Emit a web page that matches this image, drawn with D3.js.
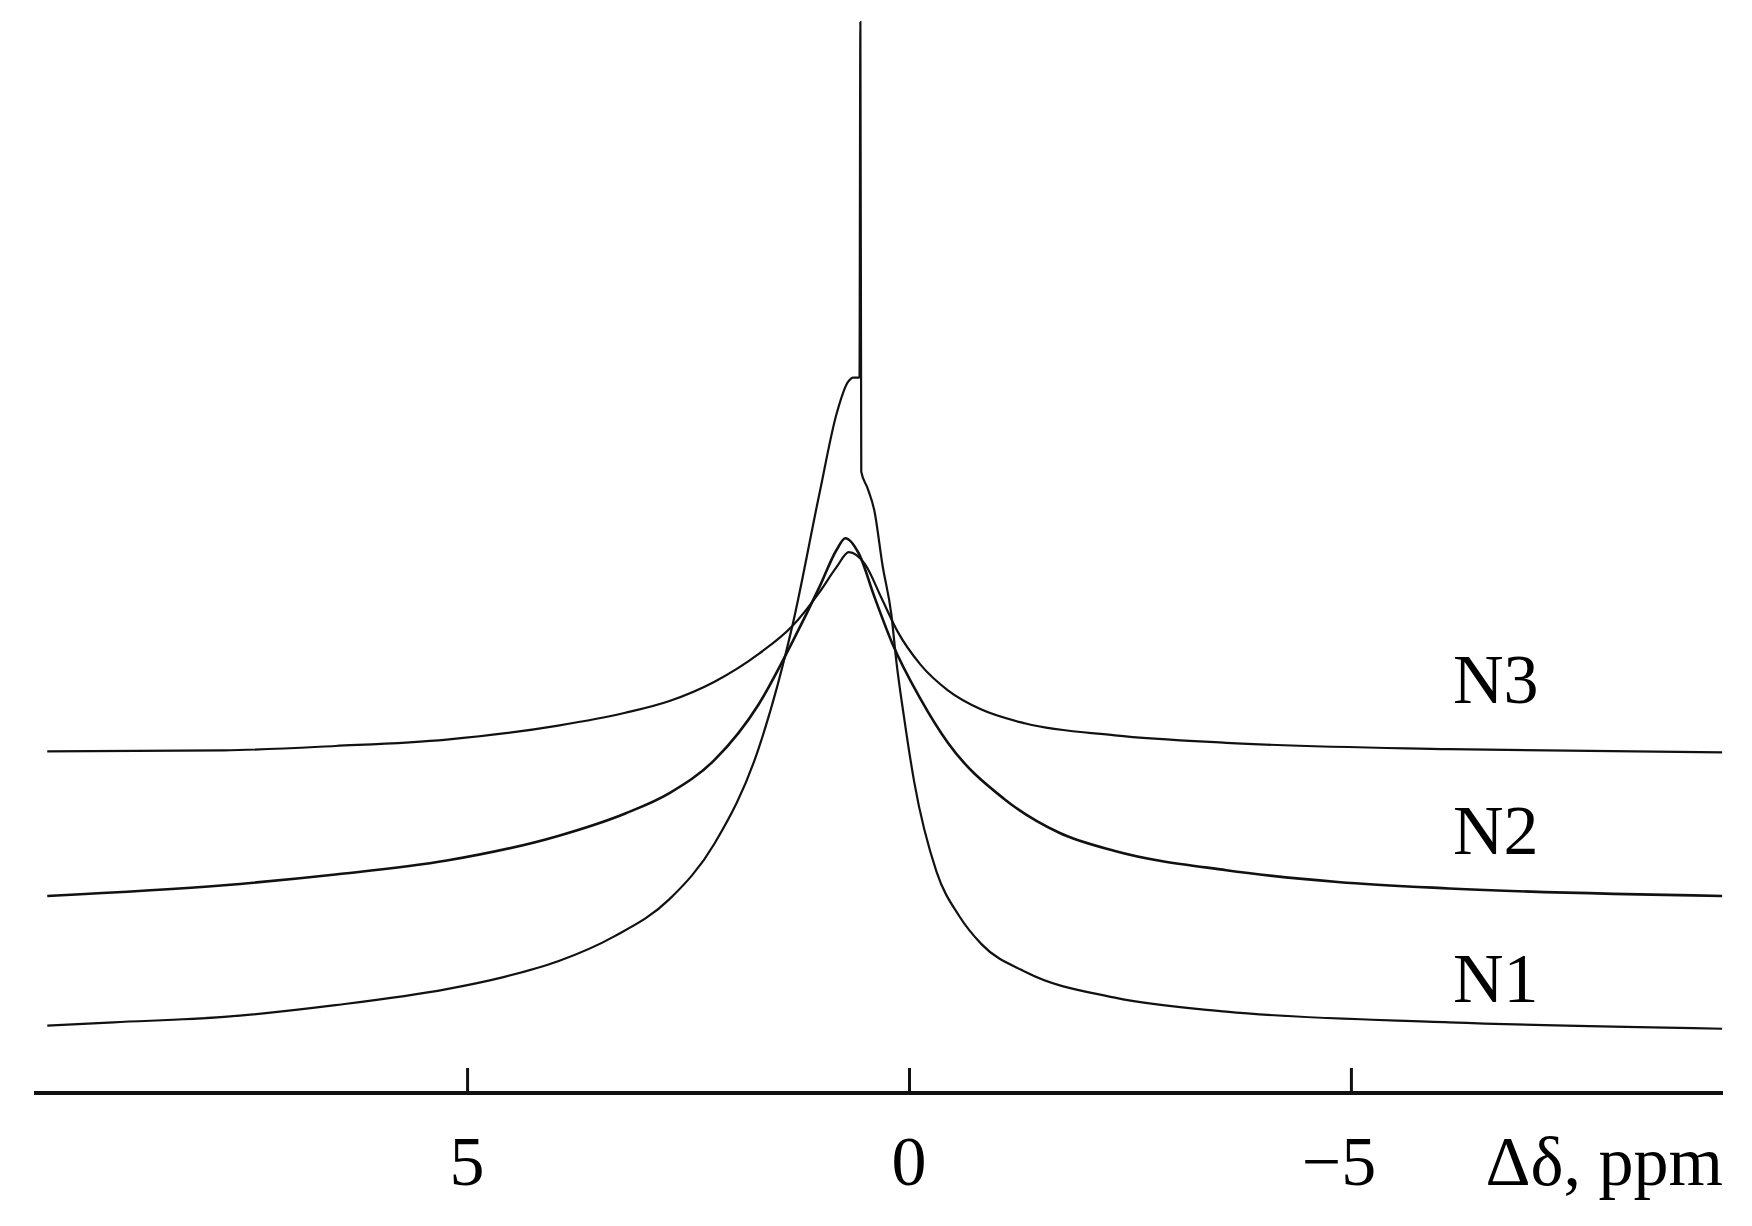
<!DOCTYPE html>
<html><head><meta charset="utf-8">
<script src="https://cdn.jsdelivr.net/npm/d3@7"></script>
<style>body{margin:0;background:#fff}</style>
</head><body>
<svg id="c" width="1752" height="1226"></svg>
<script>
const seriesNames = ["N1","N2","N3"];
const xTicks = [5, 0, -5];
const xTickLabels = ["5", "0", "\u22125"];
const axisTitle = "\u0394\u03b4, ppm";
// [ppm, intensity (a.u., offset traces)]
const N1 = [[9.75,6.3],[9.0,6.6],[7.75,7.1],[6.49,8.2],[5.23,9.7],[4.6,10.8],[3.97,12.3],[3.34,14.6],[2.71,18.1],[2.2,23.3],[1.7,32.2],[1.32,43.6],[1.01,56.1],[0.82,63.4],[0.69,66.4],[0.63,66.8],[0.56,66.8],[0.55,100],[0.54,58],[0.47,56.5],[0.39,54.3],[0.30,49.3],[0.20,44.7],[0.14,40.1],[0.06,35.3],[-0.06,29.0],[-0.31,20.7],[-0.57,16.5],[-0.82,13.9],[-1.32,11.3],[-2.33,8.9],[-3.59,7.6],[-6.11,6.6],[-9.2,6.0]];
const N2 = [[9.75,18.4],[7.75,19.4],[6.49,20.4],[5.23,21.7],[3.97,24.0],[3.21,26.1],[2.71,28.0],[2.2,31.1],[1.7,36.3],[1.32,42.1],[1.01,47.3],[0.82,50.7],[0.72,51.8],[0.57,50.4],[0.39,46.3],[0.19,42.0],[-0.13,36.8],[-0.44,32.7],[-1.07,27.5],[-1.70,24.3],[-2.33,22.6],[-3.59,20.8],[-4.85,19.7],[-6.11,19.1],[-9.2,18.4]];
const N3 = [[9.75,31.9],[7.75,32.0],[6.49,32.4],[5.23,33.0],[3.97,34.3],[3.21,35.5],[2.71,36.6],[2.2,38.4],[1.7,41.0],[1.32,43.6],[1.01,46.8],[0.82,49.1],[0.68,50.5],[0.50,49.4],[0.31,46.2],[0.13,43.1],[-0.13,40.0],[-0.44,37.6],[-0.82,35.8],[-1.32,34.5],[-2.33,33.4],[-3.59,32.7],[-6.11,32.1],[-9.2,31.8]];
const series = [N1, N2, N3];

const svg = d3.select("#c");
const x = d3.scaleLinear().domain([9.9, -9.21]).range([34, 1723]);
const y = d3.scaleLinear().domain([0, 100]).range([1093, 22]);

const line = d3.line().x(d => x(d[0])).y(d => y(d[1])).curve(d3.curveMonotoneX);
series.forEach((s, i) => {
  svg.append("path").attr("d", line(s)).attr("fill", "none")
    .attr("stroke", "#111").attr("stroke-width", i === 1 ? 2.6 : 2.2);
});

const ax = svg.append("g").attr("transform", "translate(0,1093)")
  .call(d3.axisTop(x).tickValues(xTicks).tickSize(25).tickFormat(""));
ax.select(".domain").remove();
ax.selectAll(".tick line").attr("stroke", "#111").attr("stroke-width", 3);
svg.append("line").attr("x1", x(9.9)).attr("x2", x(-9.21)).attr("y1", 1093).attr("y2", 1093)
  .attr("stroke", "#111").attr("stroke-width", 4);

xTicks.forEach((t, i) => {
  svg.append("text").attr("x", x(t) + (t < 0 ? -12 : 0)).attr("y", 1185).attr("text-anchor", "middle")
    .attr("font-family", "Liberation Serif").attr("font-size", 70).text(xTickLabels[i]);
});
svg.append("text").attr("x", 1723).attr("y", 1185).attr("text-anchor", "end")
  .attr("font-family", "Liberation Serif").attr("font-size", 70).text(axisTitle);

seriesNames.forEach((n, i) => {
  svg.append("text").attr("x", 1453).attr("y", [1002, 854, 703][i])
    .attr("font-family", "Liberation Serif").attr("font-size", 70).text(n);
});
</script>
</body></html>
